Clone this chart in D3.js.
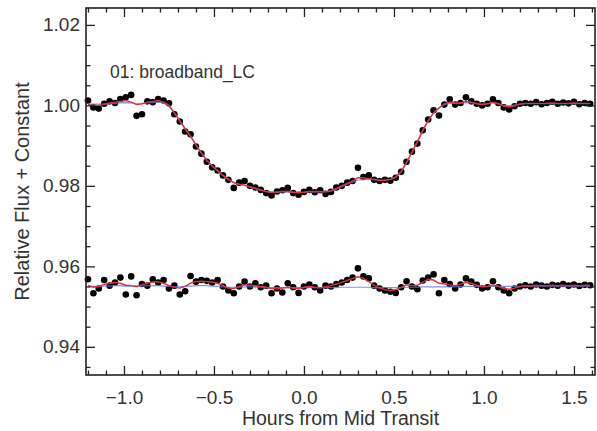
<!DOCTYPE html>
<html><head><meta charset="utf-8">
<script src="https://cdn.jsdelivr.net/npm/d3@7"></script>
<style>
body{margin:0;background:#fff;}
svg{display:block;font-family:"Liberation Sans",Arial,Helvetica,sans-serif;}
</style></head>
<body><svg id="c" width="597" height="431"></svg>
<script>
// Time grid (hours from mid transit)
const times = [-1.20,-1.17,-1.14,-1.11,-1.08,-1.05,-1.02,-0.99,-0.96,-0.93,-0.90,-0.87,-0.84,-0.81,-0.78,-0.75,-0.72,-0.69,-0.66,-0.63,-0.60,-0.57,-0.54,-0.51,-0.48,-0.45,-0.42,-0.39,-0.36,-0.33,-0.30,-0.27,-0.24,-0.21,-0.18,-0.15,-0.12,-0.09,-0.06,-0.03,0.00,0.03,0.06,0.09,0.12,0.15,0.18,0.21,0.24,0.27,0.30,0.33,0.36,0.39,0.42,0.45,0.48,0.51,0.54,0.57,0.60,0.63,0.66,0.69,0.72,0.75,0.78,0.81,0.84,0.87,0.90,0.93,0.96,0.99,1.02,1.05,1.08,1.11,1.14,1.17,1.20,1.23,1.26,1.29,1.32,1.35,1.38,1.41,1.44,1.47,1.50,1.53,1.56,1.59];

// Raw light curve (upper)
const fluxLC = [1.0012,0.9995,0.9992,1.0004,1.0010,1.0006,1.0016,1.0020,1.0026,0.9974,0.9978,1.0010,1.0008,1.0016,1.0012,1.0005,0.9978,0.9960,0.9935,0.9928,0.9898,0.9880,0.9860,0.9846,0.9838,0.9826,0.9815,0.9795,0.9808,0.9812,0.9800,0.9796,0.9790,0.9782,0.9776,0.9786,0.9789,0.9795,0.9782,0.9778,0.9785,0.9790,0.9784,0.9789,0.9780,0.9785,0.9796,0.9800,0.9808,0.9812,0.9845,0.9822,0.9826,0.9815,0.9812,0.9815,0.9813,0.9820,0.9835,0.9860,0.9885,0.9905,0.9938,0.9965,0.9988,0.9975,1.0002,1.0015,1.0002,1.0006,1.0020,1.0010,1.0004,1.0000,1.0004,1.0015,1.0006,0.9995,0.9990,0.9998,1.0004,1.0006,1.0004,1.0008,1.0003,1.0006,1.0009,1.0004,1.0007,1.0005,1.0009,1.0003,1.0006,1.0004];

// Full model (red, upper)
const modelLC = [1.0002,1.0000,1.0000,1.0003,1.0006,1.0008,1.0010,1.0012,1.0008,1.0002,1.0004,1.0008,1.0010,1.0012,1.0008,1.0000,0.9982,0.9962,0.9942,0.9924,0.9902,0.9882,0.9864,0.9850,0.9838,0.9826,0.9816,0.9808,0.9804,0.9802,0.9798,0.9794,0.9790,0.9786,0.9784,0.9785,0.9786,0.9786,0.9784,0.9783,0.9784,0.9786,0.9786,0.9786,0.9785,0.9788,0.9794,0.9800,0.9806,0.9812,0.9820,0.9820,0.9818,0.9816,0.9814,0.9814,0.9816,0.9822,0.9836,0.9858,0.9884,0.9910,0.9938,0.9962,0.9982,0.9994,1.0004,1.0008,1.0006,1.0006,1.0010,1.0008,1.0004,1.0002,1.0004,1.0008,1.0004,0.9998,0.9996,0.9999,1.0003,1.0005,1.0005,1.0005,1.0005,1.0005,1.0006,1.0005,1.0005,1.0005,1.0006,1.0005,1.0005,1.0005];

// Transit-only model (blue, upper)
const transitLC = [1.0003,1.0003,1.0003,1.0003,1.0004,1.0005,1.0006,1.0007,1.0006,1.0004,1.0004,1.0006,1.0007,1.0008,1.0006,0.9998,0.9981,0.9961,0.9941,0.9922,0.9901,0.9881,0.9863,0.9849,0.9837,0.9826,0.9816,0.9808,0.9804,0.9801,0.9797,0.9793,0.9789,0.9786,0.9784,0.9784,0.9785,0.9785,0.9784,0.9783,0.9784,0.9785,0.9785,0.9785,0.9785,0.9787,0.9792,0.9798,0.9804,0.9809,0.9814,0.9816,0.9816,0.9815,0.9814,0.9814,0.9816,0.9821,0.9835,0.9857,0.9883,0.9909,0.9937,0.9961,0.9981,0.9993,1.0002,1.0005,1.0005,1.0005,1.0007,1.0006,1.0004,1.0003,1.0004,1.0006,1.0004,1.0000,0.9999,1.0001,1.0003,1.0004,1.0004,1.0004,1.0004,1.0004,1.0005,1.0004,1.0004,1.0004,1.0005,1.0004,1.0004,1.0004];

// Residuals + constant (lower)
const fluxRes = [0.9568,0.9533,0.9545,0.9566,0.9552,0.9560,0.9572,0.9530,0.9575,0.9528,0.9556,0.9552,0.9568,0.9560,0.9566,0.9545,0.9552,0.9530,0.9538,0.9576,0.9562,0.9566,0.9564,0.9560,0.9566,0.9550,0.9540,0.9533,0.9550,0.9562,0.9550,0.9558,0.9548,0.9552,0.9533,0.9545,0.9535,0.9558,0.9548,0.9534,0.9550,0.9555,0.9548,0.9540,0.9552,0.9550,0.9556,0.9560,0.9566,0.9572,0.9595,0.9575,0.9570,0.9552,0.9545,0.9540,0.9537,0.9534,0.9548,0.9563,0.9550,0.9543,0.9565,0.9572,0.9580,0.9533,0.9566,0.9556,0.9545,0.9555,0.9570,0.9562,0.9554,0.9545,0.9548,0.9563,0.9548,0.9540,0.9533,0.9545,0.9550,0.9553,0.9550,0.9555,0.9552,0.9550,0.9554,0.9552,0.9556,0.9552,0.9555,0.9551,0.9554,0.9553];

// Systematics model (red, lower)
const modelRes = [0.9552,0.9548,0.9550,0.9555,0.9557,0.9560,0.9558,0.9553,0.9552,0.9550,0.9554,0.9558,0.9561,0.9562,0.9558,0.9552,0.9548,0.9546,0.9550,0.9558,0.9562,0.9563,0.9562,0.9561,0.9558,0.9552,0.9546,0.9545,0.9550,0.9554,0.9553,0.9552,0.9550,0.9548,0.9545,0.9544,0.9546,0.9548,0.9546,0.9545,0.9548,0.9550,0.9548,0.9547,0.9549,0.9552,0.9556,0.9560,0.9565,0.9570,0.9574,0.9570,0.9562,0.9553,0.9546,0.9542,0.9540,0.9542,0.9548,0.9554,0.9552,0.9553,0.9560,0.9568,0.9566,0.9558,0.9556,0.9554,0.9552,0.9556,0.9560,0.9558,0.9553,0.9549,0.9550,0.9554,0.9550,0.9545,0.9543,0.9546,0.9550,0.9552,0.9551,0.9553,0.9552,0.9552,0.9553,0.9552,0.9553,0.9552,0.9553,0.9552,0.9553,0.9553];

// Smooth baseline (blue, lower)
const baseRes = [0.9550,0.9550,0.9550,0.9551,0.9551,0.9552,0.9552,0.9551,0.9551,0.9551,0.9551,0.9552,0.9552,0.9552,0.9551,0.9550,0.9549,0.9549,0.9550,0.9551,0.9552,0.9552,0.9552,0.9551,0.9550,0.9549,0.9548,0.9548,0.9548,0.9549,0.9549,0.9548,0.9548,0.9547,0.9547,0.9547,0.9547,0.9547,0.9547,0.9547,0.9547,0.9547,0.9547,0.9547,0.9547,0.9547,0.9547,0.9548,0.9548,0.9548,0.9548,0.9548,0.9548,0.9547,0.9547,0.9547,0.9547,0.9547,0.9547,0.9548,0.9548,0.9548,0.9549,0.9549,0.9549,0.9549,0.9549,0.9549,0.9549,0.9550,0.9550,0.9550,0.9550,0.9550,0.9550,0.9550,0.9550,0.9550,0.9550,0.9550,0.9550,0.9551,0.9551,0.9551,0.9551,0.9551,0.9551,0.9551,0.9551,0.9551,0.9551,0.9551,0.9551,0.9551];

const xMajor = [-1.0,-0.5,0.0,0.5,1.0,1.5];
const yMajor = [0.94,0.96,0.98,1.00,1.02];
const xMinor = [-1.2,-1.1,-0.9,-0.8,-0.7,-0.6,-0.4,-0.3,-0.2,-0.1,0.1,0.2,0.3,0.4,0.6,0.7,0.8,0.9,1.1,1.2,1.3,1.4,1.6];
const yMinor = [0.935,0.945,0.950,0.955,0.965,0.970,0.975,0.985,0.990,0.995,1.005,1.010,1.015];
const label = "01: broadband_LC";
const xTitle = "Hours from Mid Transit";
const yTitle = "Relative Flux + Constant";

const L=86, R=595, T=8, B=375;
const svg = d3.select("#c");
const x = d3.scaleLinear().domain([-1.211,1.617]).range([L,R]);
const y = d3.scaleLinear().domain([0.9330,1.0242]).range([B,T]);

const inkText="#333", inkAxis="#222";

// data
const g = svg.append("g");
function dots(vals){
  g.append("g").selectAll("circle").data(times).join("circle")
   .attr("cx",(d)=>x(d)).attr("cy",(d,i)=>y(vals[i])).attr("r",3.3).attr("fill","#000");
}
function line(vals,color,w,op){
  g.append("path").datum(times)
   .attr("d",d3.line().x(d=>x(d)).y((d,i)=>y(vals[i])))
   .attr("fill","none").attr("stroke",color).attr("stroke-width",w).attr("opacity",op);
}
dots(fluxLC); dots(fluxRes);
line(transitLC,"#5a78e6",1.2,0.8);
line(baseRes,"#5a78e6",1.2,0.8);
line(modelLC,"#e0303e",1.4,1);
line(modelRes,"#e0303e",1.4,1);

// axes
function styleAxis(sel){
  sel.select(".domain").remove();
  sel.selectAll("line").attr("stroke",inkAxis).attr("stroke-width",1.3);
  sel.selectAll("text").attr("fill",inkText).attr("font-size",19);
}
svg.append("g").attr("transform",`translate(0,${B})`)
  .call(d3.axisBottom(x).tickValues(xMajor).tickSize(-9).tickPadding(16).tickFormat(d3.format(".1f")))
  .call(styleAxis);
svg.append("g").attr("transform",`translate(0,${B})`)
  .call(d3.axisBottom(x).tickValues(xMinor).tickSize(-4.5).tickFormat("")).call(styleAxis);
svg.append("g").attr("transform",`translate(0,${T})`)
  .call(d3.axisTop(x).tickValues(xMajor).tickSize(-9).tickFormat("")).call(styleAxis);
svg.append("g").attr("transform",`translate(0,${T})`)
  .call(d3.axisTop(x).tickValues(xMinor).tickSize(-4.5).tickFormat("")).call(styleAxis);
svg.append("g").attr("transform",`translate(${L},0)`)
  .call(d3.axisLeft(y).tickValues(yMajor).tickSize(-9).tickPadding(6).tickFormat(d3.format(".2f")))
  .call(styleAxis);
svg.append("g").attr("transform",`translate(${L},0)`)
  .call(d3.axisLeft(y).tickValues(yMinor).tickSize(-4.5).tickFormat("")).call(styleAxis);
svg.append("g").attr("transform",`translate(${R},0)`)
  .call(d3.axisRight(y).tickValues(yMajor).tickSize(-9).tickFormat("")).call(styleAxis);
svg.append("g").attr("transform",`translate(${R},0)`)
  .call(d3.axisRight(y).tickValues(yMinor).tickSize(-4.5).tickFormat("")).call(styleAxis);

svg.append("rect").attr("x",L).attr("y",T).attr("width",R-L).attr("height",B-T)
  .attr("fill","none").attr("stroke",inkAxis).attr("stroke-width",1.6);

svg.append("text").attr("x",110).attr("y",78).attr("font-size",17.5).attr("fill",inkText).text(label);
svg.append("text").attr("x",(L+R)/2).attr("y",425).attr("text-anchor","middle")
  .attr("font-size",19.5).attr("fill",inkText).text(xTitle);
svg.append("text").attr("transform",`translate(29,${(T+B)/2}) rotate(-90)`).attr("text-anchor","middle")
  .attr("font-size",20).attr("fill",inkText).text(yTitle);
</script></body></html>
